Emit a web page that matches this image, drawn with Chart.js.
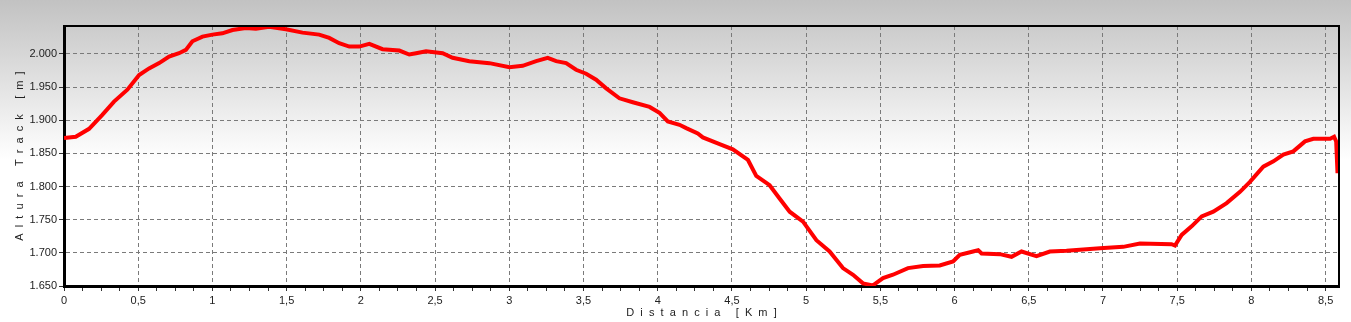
<!DOCTYPE html>
<html>
<head>
<meta charset="utf-8">
<title>Perfil de altura</title>
<script src="https://cdn.jsdelivr.net/npm/chart.js@4"></script>
<style>
    html, body { margin: 0; padding: 0; background: #fff; }
    #wrap { width: 1351px; height: 322px; }
</style>
</head>
<body>
<div id="wrap"><canvas id="perfilChart" width="1351" height="322"></canvas></div>
<script>
// Distancia del track en km
const distKm = [
    0.000, 0.079, 0.169, 0.258, 0.337, 0.427, 0.506, 0.573, 0.641, 0.708,
    0.775, 0.821, 0.865, 0.933, 1.000, 1.067, 1.135, 1.225, 1.293, 1.382,
    1.495, 1.607, 1.719, 1.787, 1.854, 1.922, 1.989, 2.057, 2.146, 2.259,
    2.326, 2.372, 2.439, 2.551, 2.618, 2.731, 2.866, 3.001, 3.090, 3.181,
    3.259, 3.316, 3.383, 3.450, 3.518, 3.585, 3.653, 3.742, 3.832, 3.945,
    4.012, 4.068, 4.147, 4.192, 4.270, 4.304, 4.417, 4.506, 4.608, 4.664,
    4.754, 4.821, 4.889, 4.979, 5.069, 5.158, 5.248, 5.316, 5.383, 5.450,
    5.518, 5.585, 5.686, 5.788, 5.900, 5.990, 6.035, 6.125, 6.159, 6.182,
    6.305, 6.384, 6.451, 6.552, 6.642, 6.754, 6.867, 6.979, 7.136, 7.249,
    7.462, 7.485, 7.530, 7.597, 7.665, 7.743, 7.833, 7.923, 7.990, 8.080,
    8.148, 8.215, 8.282, 8.361, 8.417, 8.530, 8.557, 8.571, 8.580
];

// Altura en metros
const altM = [
    1873, 1875, 1887, 1908, 1928, 1946, 1968, 1978, 1986, 1996,
    2001, 2006, 2019, 2026, 2029, 2031, 2036, 2039, 2038, 2041,
    2037, 2032, 2029, 2024, 2016, 2011, 2011, 2015, 2007, 2005,
    1999, 2001, 2004, 2001, 1994, 1989, 1986, 1980, 1982, 1989,
    1994, 1989, 1986, 1976, 1970, 1961, 1948, 1933, 1927, 1920,
    1911, 1898, 1893, 1888, 1880, 1874, 1864, 1856, 1840, 1816,
    1802, 1782, 1762, 1747, 1719, 1702, 1677, 1667, 1654, 1651,
    1662, 1667, 1677, 1680, 1681, 1687, 1697, 1702, 1704, 1699,
    1698, 1694, 1702, 1695, 1702, 1703, 1705, 1707, 1709, 1714,
    1713, 1711, 1727, 1740, 1755, 1762, 1775, 1792, 1807, 1830,
    1838, 1848, 1853, 1868, 1872, 1872, 1875, 1868, 1820
];

// Limites de los ejes
const xRange = [0, 8.59];
const yRange = [1650, 2042];
// Marcas del eje X: cada 0,125 km, con etiqueta cada 0,5 km
const xTickStep = 0.125;
const xTickLast = 8.5;

function esMayor(v) {
    return Math.abs(v * 2 - Math.round(v * 2)) < 1e-6;
}

// Fondo degradado gris -> blanco y marco del area
const fondoPlugin = {
    id: 'fondo',
    beforeDraw(chart) {
        const ctx = chart.ctx;
        const g = ctx.createLinearGradient(0, 0, 0, 160);
        g.addColorStop(0, '#c2c2c2');
        g.addColorStop(1, '#ffffff');
        ctx.save();
        ctx.fillStyle = g;
        ctx.fillRect(0, 0, chart.width, chart.height);
        ctx.restore();
    },
    afterDraw(chart) {
        const a = chart.chartArea;
        const ctx = chart.ctx;
        ctx.save();
        ctx.strokeStyle = '#000';
        ctx.lineWidth = 2;
        ctx.beginPath();
        ctx.moveTo(a.left, a.top);
        ctx.lineTo(a.right, a.top);
        ctx.lineTo(a.right, a.bottom);
        ctx.stroke();
        ctx.restore();
    }
};

const fuente = { family: "'Liberation Sans', Arial, sans-serif", size: 11 };

new Chart(document.getElementById('perfilChart'), {
    type: 'line',
    data: {
        datasets: [{
            data: distKm.map((d, i) => ({ x: d, y: altM[i] })),
            borderColor: '#ff0000',
            borderWidth: 4,
            pointRadius: 0,
            tension: 0,
            fill: false
        }]
    },
    options: {
        responsive: false,
        animation: false,
        layout: { padding: { left: 0, right: 12, top: 26, bottom: 0 } },
        plugins: {
            legend: { display: false },
            tooltip: { enabled: false }
        },
        scales: {
            x: {
                type: 'linear',
                min: xRange[0],
                max: xRange[1],
                afterFit: s => { s.height = 36; },
                afterBuildTicks: s => {
                    const t = [];
                    for (let k = 0; k * xTickStep <= xTickLast + 1e-9; k++) {
                        t.push({ value: k * xTickStep });
                    }
                    s.ticks = t;
                },
                ticks: {
                    autoSkip: false,
                    maxRotation: 0,
                    padding: 3,
                    color: '#222',
                    font: fuente,
                    callback: v => esMayor(v) ? String(v).replace('.', ',') : ''
                },
                grid: {
                    color: c => (c.tick && esMayor(c.tick.value)) ? '#7a7a7a' : 'rgba(0,0,0,0)',
                    tickColor: '#333',
                    tickLength: 5,
                    lineWidth: 1
                },
                border: { color: '#000', width: 3, dash: [4, 3] },
                title: {
                    display: true,
                    text: 'D  i  s  t  a  n  c  i  a     [  K  m  ]',
                    color: '#222',
                    font: fuente,
                    padding: { top: 0, bottom: 2 }
                }
            },
            y: {
                min: yRange[0],
                max: yRange[1],
                afterFit: s => { s.width = 64; },
                ticks: {
                    stepSize: 50,
                    padding: 2,
                    color: '#222',
                    font: fuente,
                    callback: v => v % 50 === 0 ? String(v).replace(/(\d)(\d{3})$/, '$1.$2') : ''
                },
                grid: {
                    color: c => (c.tick && c.tick.value % 50 === 0) ? '#7a7a7a' : 'rgba(0,0,0,0)',
                    tickColor: c => (c.tick && c.tick.value % 50 === 0) ? '#333' : 'rgba(0,0,0,0)',
                    tickLength: 5,
                    lineWidth: 1
                },
                border: { color: '#000', width: 3, dash: [4, 3] },
                title: {
                    display: true,
                    text: 'A  l  t  u  r  a     T  r  a  c  k     [  m  ]',
                    color: '#222',
                    font: fuente,
                    padding: { top: 13, bottom: 0 }
                }
            }
        }
    },
    plugins: [fondoPlugin]
});
</script>
</body>
</html>
